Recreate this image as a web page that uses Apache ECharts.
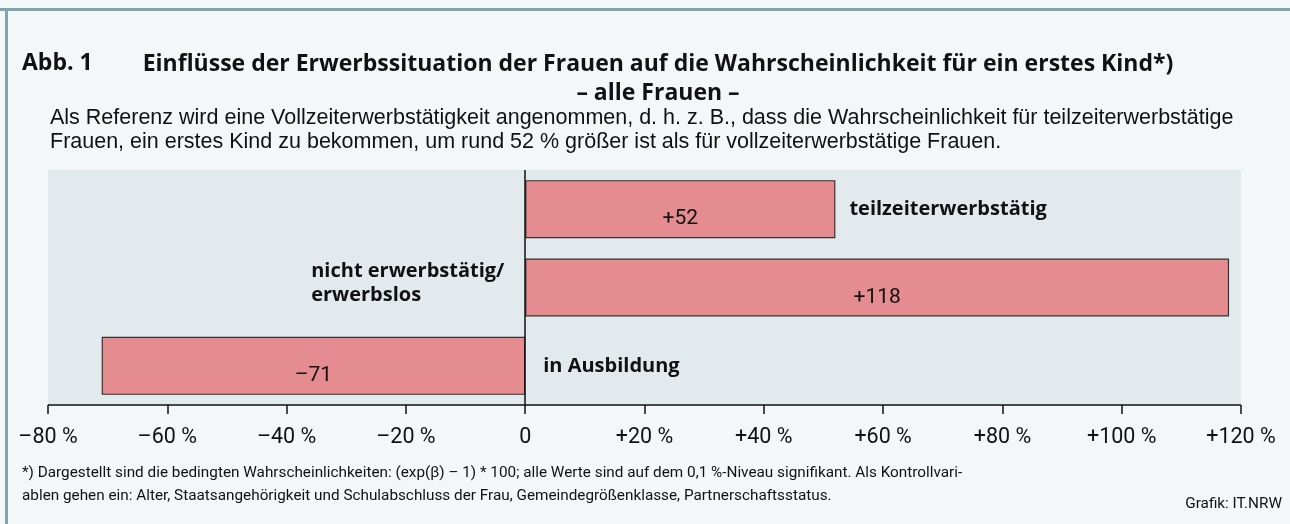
<!DOCTYPE html>
<html>
<head>
<meta charset="utf-8">
<script src="https://cdn.jsdelivr.net/npm/echarts@6/dist/echarts.min.js"></script>
<style>
    html, body { margin: 0; padding: 0; background: #f4f7f8; }
    #chart { width: 1290px; height: 524px; }
</style>
</head>
<body>
<div id="chart"></div>
<script>
// Einflüsse der Erwerbssituation (Referenz: Vollzeit), Werte in %
var categories = ["teilzeiterwerbstätig", "nicht erwerbstätig/\nerwerbslos", "in Ausbildung"];
var values = [52, 118, -71];
var axisMin = -80;
var axisMax = 120;
var axisStep = 20;

var titleText = "Einflüsse der Erwerbssituation der Frauen auf die Wahrscheinlichkeit für ein erstes Kind*)";
var titleSub = "– alle Frauen –";
var introLines = [
    "Als Referenz wird eine Vollzeiterwerbstätigkeit angenommen, d. h. z. B., dass die Wahrscheinlichkeit für teilzeiterwerbstätige",
    "Frauen, ein erstes Kind zu bekommen, um rund 52 % größer ist als für vollzeiterwerbstätige Frauen."
];
var noteLines = [
    "*) Dargestellt sind die bedingten Wahrscheinlichkeiten: (exp(β) – 1) * 100; alle Werte sind auf dem 0,1 %-Niveau signifikant. Als Kontrollvari-",
    "ablen gehen ein: Alter, Staatsangehörigkeit und Schulabschluss der Frau, Gemeindegrößenklasse, Partnerschaftsstatus."
];
var sourceText = "Grafik: IT.NRW";

var condFont = "Roboto";
var boldFont = "Open Sans";

function signed(v)
{
    if (v > 0) {
        return "+" + v;
    }
    if (v < 0) {
        return "–" + Math.abs(v);
    }
    return "0";
}

// where the category name sits relative to its bar
var nameLabels = [
    { position: "right", distance: 14 },
    { position: [-214, 25], align: "left", verticalAlign: "middle" },
    { position: "right", distance: 18 }
];

var chart = echarts.init(document.getElementById("chart"), null, { renderer: "canvas" });

var option = {
    backgroundColor: "#f4f7f8",
    animation: false,
    title: [
        {
            text: "Abb. 1",
            left: 22, top: 52, padding: 0,
            textStyle: { fontFamily: boldFont, fontWeight: "bold", fontSize: 23, color: "#111" }
        },
        {
            text: titleText + "\n" + titleSub,
            left: 658, top: 50, textAlign: "center", padding: 0,
            textStyle: { fontFamily: boldFont, fontWeight: "bold", fontSize: 23, color: "#111", lineHeight: 29, align: "center" }
        },
        {
            text: introLines.join("\n"),
            left: 50, top: 106, padding: 0,
            textStyle: { fontFamily: "Liberation Sans", fontWeight: "normal", fontSize: 21.5, color: "#111", lineHeight: 24 }
        },
        {
            text: noteLines.join("\n"),
            left: 22, top: 462, padding: 0,
            textStyle: { fontFamily: condFont, fontWeight: "normal", fontSize: 15.3, color: "#111", lineHeight: 23 }
        },
        {
            text: sourceText,
            right: 8, top: 497, padding: 0,
            textStyle: { fontFamily: condFont, fontWeight: "normal", fontSize: 15.3, color: "#111" }
        }
    ],
    graphic: [
        { type: "rect", left: 0, top: 8, shape: { width: 1290, height: 3 }, style: { fill: "#7fa4ac" }, silent: true },
        { type: "rect", left: 5, top: 8, shape: { width: 3, height: 516 }, style: { fill: "#7fa4ac" }, silent: true }
    ],
    grid: {
        left: 48, right: 49, top: 170, bottom: 119,
        show: true, backgroundColor: "#e2eaed", borderWidth: 0
    },
    xAxis: {
        type: "value",
        min: axisMin, max: axisMax, interval: axisStep,
        axisLine: { show: false },
        axisTick: { show: true, length: 9, lineStyle: { color: "#111", width: 1.5 } },
        splitLine: { show: false },
        axisLabel: {
            margin: 22,
            fontFamily: condFont, fontSize: 21.5, color: "#111",
            formatter: function(v) { return v === 0 ? "0" : signed(v) + " %"; }
        }
    },
    yAxis: {
        type: "category",
        data: categories,
        inverse: true,
        axisLine: { show: false },
        axisTick: { show: false },
        axisLabel: { show: false }
    },
    series: [
        {
            type: "bar",
            data: values,
            barWidth: 58,
            itemStyle: { color: "#e48c8f", borderColor: "#333", borderWidth: 1.2 },
            label: {
                show: true,
                position: "inside",
                offset: [0, 10],
                fontFamily: condFont, fontSize: 21, color: "#111",
                formatter: function(p) { return signed(p.value); }
            },
            markLine: {
                silent: true,
                symbol: "none",
                label: { show: false },
                lineStyle: { color: "#111", width: 1.5, type: "solid" },
                data: [
                    { xAxis: 0 },
                    [{ coord: [axisMin, 2], y: 405 }, { coord: [axisMax, 2], y: 405 }]
                ]
            }
        },
        {
            type: "bar",
            barGap: "-100%",
            barWidth: 58,
            silent: true,
            itemStyle: { color: "rgba(0,0,0,0)" },
            data: values.map(function(v, i) {
                return {
                    value: v,
                    label: Object.assign({
                        show: true,
                        formatter: categories[i],
                        fontFamily: boldFont, fontWeight: "bold", fontSize: 20, color: "#111", lineHeight: 24
                    }, nameLabels[i])
                };
            })
        }
    ]
};

chart.setOption(option);
</script>
</body>
</html>
